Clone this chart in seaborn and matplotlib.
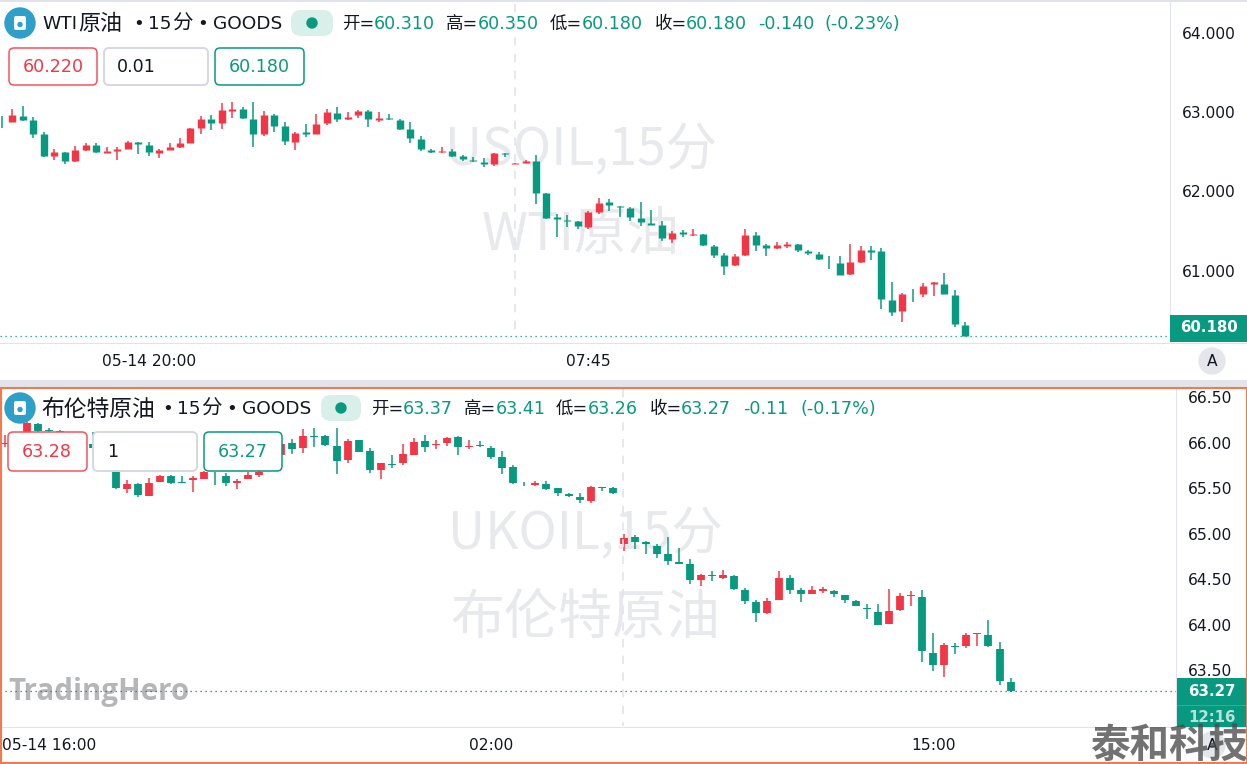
import matplotlib
matplotlib.use("Agg")
import matplotlib.pyplot as plt
import pandas as pd
import seaborn as sns
from matplotlib.patches import Circle, FancyBboxPatch, Rectangle

GREEN, RED = "#089981", "#f23645"
GREY_LINE = "#e0e3eb"
WM = "#e8e9ec"

# WTI crude, 15-minute candles
wti_open = [62.88,62.87,62.95,62.90,62.72,62.45,62.50,62.38,62.52,62.59,62.49,62.51,62.54,62.62,62.59,62.49,62.52,62.56,62.61,62.80,
            62.92,62.86,63.02,63.04,62.92,62.73,62.97,62.83,62.63,62.75,62.73,62.86,62.99,62.92,62.96,63.01,62.90,62.93,62.90,62.79,
            62.66,62.52,62.50,62.51,62.45,62.40,62.37,62.35,62.48,62.35,62.36,62.39,61.98,61.68,61.64,61.62,61.55,61.74,61.86,61.82,
            61.79,61.67,61.60,61.58,61.40,61.49,61.45,61.46,61.31,61.20,61.07,61.20,61.45,61.32,61.28,61.31,61.34,61.25,61.21,61.14,
            61.10,60.96,61.11,61.26,61.25,60.63,60.49,60.71,60.71,60.83,60.83,60.69,60.31]
wti_high = [62.95,63.04,63.08,62.94,62.75,62.53,62.50,62.57,62.61,62.61,62.56,62.56,62.64,62.62,62.62,62.53,62.61,62.67,62.80,62.95,
            62.97,63.12,63.13,63.06,63.13,63.01,62.98,62.87,62.75,62.85,62.98,63.04,63.06,63.00,63.03,63.03,63.00,62.98,62.92,62.88,
            62.70,62.54,62.56,62.54,62.46,62.43,62.42,62.49,62.48,62.36,62.40,62.46,61.98,61.71,61.70,61.63,61.75,61.92,61.90,61.82,
            61.80,61.86,61.76,61.63,61.50,61.51,61.53,61.46,61.32,61.22,61.21,61.53,61.49,61.34,61.36,61.36,61.34,61.26,61.23,61.18,
            61.18,61.34,61.31,61.31,61.29,60.85,60.72,60.77,60.84,60.85,60.97,60.75,60.35]
wti_low = [62.80,62.87,62.89,62.68,62.44,62.40,62.35,62.37,62.51,62.49,62.49,62.40,62.53,62.47,62.45,62.42,62.52,62.55,62.61,62.72,
           62.78,62.79,62.93,62.91,62.56,62.70,62.75,62.59,62.52,62.69,62.72,62.84,62.87,62.90,62.93,62.81,62.88,62.90,62.77,62.61,
           62.51,62.48,62.49,62.44,62.38,62.37,62.31,62.32,62.44,62.34,62.36,61.84,61.65,61.43,61.55,61.52,61.53,61.71,61.75,61.68,
           61.63,61.56,61.58,61.38,61.35,61.42,61.44,61.31,61.16,60.94,61.06,61.19,61.25,61.18,61.27,61.28,61.23,61.20,61.14,61.02,
           60.95,60.95,61.10,61.14,60.52,60.43,60.35,60.60,60.67,60.68,60.70,60.29,60.18]
wti_close = [62.87,62.96,62.90,62.73,62.45,62.50,62.38,62.52,62.59,62.50,62.51,62.54,62.63,62.60,62.50,62.52,62.56,62.61,62.80,62.92,
             62.86,63.03,63.04,62.93,62.73,62.96,62.83,62.64,62.74,62.73,62.85,63.00,62.92,62.94,63.01,62.91,62.93,62.91,62.79,62.67,
             62.53,62.50,62.51,62.45,62.41,62.38,62.34,62.48,62.47,62.36,62.38,61.98,61.66,61.65,61.63,61.56,61.74,61.85,61.83,61.80,
             61.68,61.61,61.58,61.41,61.47,61.46,61.46,61.32,61.20,61.06,61.19,61.45,61.32,61.28,61.32,61.34,61.26,61.22,61.15,61.13,
             60.95,61.11,61.26,61.24,60.64,60.48,60.71,60.70,60.81,60.85,60.70,60.32,60.18]

# Brent crude, 15-minute candles
brent_open = [65.98,65.99,66.10,66.20,66.14,66.13,66.04,66.02,65.98,65.94,65.79,65.49,65.54,65.41,65.57,65.63,65.57,65.59,65.60,65.67,
              65.63,65.56,65.60,65.64,65.70,65.86,65.99,65.94,66.07,66.07,65.96,65.81,66.03,65.91,65.70,65.76,65.77,65.86,66.02,65.97,
              66.00,66.06,65.95,65.97,65.94,65.84,65.73,65.56,65.53,65.54,65.50,65.43,65.40,65.36,65.51,65.50,64.89,64.96,64.91,64.86,
              64.77,64.69,64.66,64.49,64.54,64.51,64.53,64.38,64.25,64.13,64.27,64.51,64.38,64.33,64.37,64.37,64.32,64.26,64.18,64.14,
              64.01,64.16,64.31,64.30,63.69,63.55,63.76,63.76,63.90,63.89,63.73,63.37]
brent_high = [66.08,66.12,66.22,66.21,66.16,66.14,66.05,66.10,66.12,65.97,65.83,65.59,65.55,65.61,65.64,65.64,65.63,65.63,65.69,65.68,
              65.67,65.60,65.68,65.72,65.79,66.00,66.04,66.15,66.16,66.08,66.16,66.04,66.03,65.94,65.77,65.86,65.98,66.05,66.08,66.03,
              66.06,66.07,66.03,66.02,65.96,65.91,65.75,65.57,65.58,65.58,65.50,65.45,65.45,65.52,65.51,65.51,64.99,64.98,64.92,64.88,
              64.96,64.84,64.72,64.56,64.59,64.60,64.54,64.40,64.27,64.29,64.59,64.54,64.40,64.42,64.41,64.38,64.32,64.27,64.22,64.22,
              64.39,64.35,64.37,64.38,63.91,63.80,63.80,63.91,63.91,64.05,63.81,63.41]
brent_low = [65.95,65.97,66.10,66.12,66.03,66.02,65.95,66.02,65.93,65.75,65.49,65.45,65.40,65.41,65.57,65.54,65.55,65.46,65.60,65.53,
             65.52,65.49,65.60,65.62,65.69,65.84,65.87,65.88,65.95,65.96,65.65,65.78,65.90,65.67,65.60,65.72,65.75,65.86,65.90,65.93,
             65.96,65.86,65.93,65.95,65.82,65.65,65.54,65.52,65.52,65.48,65.41,65.40,65.34,65.34,65.47,65.43,64.81,64.83,64.77,64.73,
             64.65,64.67,64.44,64.42,64.48,64.50,64.38,64.23,64.03,64.12,64.27,64.33,64.25,64.33,64.35,64.30,64.24,64.20,64.06,64.00,
             64.01,64.15,64.20,63.59,63.49,63.42,63.68,63.74,63.76,63.75,63.34,63.26]
brent_close = [65.99,66.10,66.21,66.13,66.13,66.05,66.02,66.08,65.94,65.79,65.50,65.54,65.42,65.56,65.63,65.56,65.56,65.61,65.68,65.66,
               65.55,65.58,65.64,65.68,65.75,65.98,65.93,66.07,66.06,65.97,65.80,66.02,65.90,65.70,65.77,65.75,65.87,66.01,65.95,65.98,
               66.05,65.95,65.96,65.96,65.84,65.72,65.56,65.55,65.55,65.49,65.44,65.41,65.37,65.51,65.50,65.45,64.95,64.91,64.88,64.77,
               64.70,64.67,64.49,64.54,64.53,64.54,64.39,64.26,64.13,64.26,64.51,64.38,64.34,64.38,64.39,64.33,64.27,64.20,64.17,64.00,
               64.15,64.31,64.32,63.71,63.55,63.78,63.75,63.88,63.91,63.76,63.38,63.27]

wti_ticks = [61, 62, 63, 64]
brent_ticks = [63.5, 64.0, 64.5, 65.0, 65.5, 66.0, 66.5]
wti_time_ticks, wti_time_labels = [14, 56], ["05-14 20:00", "07:45"]
brent_time_ticks, brent_time_labels = [4, 44, 84], ["05-14 16:00", "02:00", "15:00"]

W, H = 1247, 764
sns.set_theme(style="white")
LATIN_FIRST = ["DejaVu Sans", "Noto Sans CJK SC"]
CJK = ["Noto Sans CJK SC", "DejaVu Sans"]
plt.rcParams["font.family"] = LATIN_FIRST
plt.rcParams["axes.unicode_minus"] = False

fig = plt.figure(figsize=(W / 100, H / 100), dpi=100, facecolor="white")


def panel(x0, y0, x1, y1, z=1):
    return fig.add_axes([x0 / W, 1 - y1 / H, (x1 - x0) / W, (y1 - y0) / H], zorder=z)


def px(pixels):
    return pixels * 0.72


def candles(ax, o, h, l, c, body_px):
    df = pd.DataFrame({"i": range(len(o)), "o": o, "h": h, "l": l, "c": c})
    df["dir"] = ["up" if a >= b else "down" for a, b in zip(df.c, df.o)]
    pal = {"up": RED, "down": GREEN}
    wick = df.melt(id_vars=["i", "dir"], value_vars=["h", "l"], value_name="price")
    body = df.melt(id_vars=["i", "dir"], value_vars=["o", "c"], value_name="price")
    sns.lineplot(data=wick, x="i", y="price", hue="dir", units="i", estimator=None, palette=pal,
                 legend=False, lw=px(1.5), ax=ax, solid_capstyle="butt")
    sns.lineplot(data=body, x="i", y="price", hue="dir", units="i", estimator=None, palette=pal,
                 legend=False, lw=px(body_px), ax=ax, solid_capstyle="butt")


def style(ax, xlim, ylim, yticks, fmt, xt, xl):
    ax.set_facecolor("none")
    ax.set_xlim(*xlim)
    ax.set_ylim(*ylim)
    ax.set_xlabel("")
    ax.set_ylabel("")
    sns.despine(ax=ax, left=True, bottom=True, top=True, right=True)
    ax.yaxis.tick_right()
    ax.set_yticks(yticks, [fmt.format(v) for v in yticks])
    ax.set_xticks(xt, xl)
    ax.tick_params(axis="y", length=0, pad=px(12), labelsize=px(15.5), labelcolor="#131722")
    ax.tick_params(axis="x", length=0, pad=px(11), labelsize=px(15.5), labelcolor="#131722")


# background layer with watermarks
bg = panel(0, 0, W, H, 0)
bg.set_xlim(0, W)
bg.set_ylim(H, 0)
bg.axis("off")
for x, y, s, size in [(581, 150, "USOIL,15分", 51.5), (581, 235, "WTI原油", 52.5),
                      (585, 534, "UKOIL,15分", 51.5), (585, 619, "布伦特原油", 54)]:
    bg.text(x, y, s, color=WM, fontsize=px(size), ha="center", va="center", family=CJK)
bg.text(8, 692, "TradingHero", color="#b4b6b8", fontsize=px(29.5), fontweight="bold",
        family=["Open Sans", "DejaVu Sans"], ha="left", va="center")

# price panels
a1 = panel(0, 1, 1170, 343)
candles(a1, wti_open, wti_high, wti_low, wti_close, 7.4)
style(a1, (-2 / 10.47, 1168 / 10.47), (64 - 310 / 79.2, 64 + 32 / 79.2), wti_ticks, "{:.3f}", wti_time_ticks, wti_time_labels)

a2 = panel(0, 389, 1176, 727)
candles(a2, brent_open, brent_high, brent_low, brent_close, 7.8)
style(a2, (-5 / 11.05, 1171 / 11.05), (63.5 - 57 / 91, 66.5 + 8 / 91), brent_ticks, "{:.2f}", brent_time_ticks, brent_time_labels)

# foreground layer in pixel units
fg = panel(0, 0, W, H, 3)
fg.set_xlim(0, W)
fg.set_ylim(H, 0)
fg.axis("off")
fg.patch.set_alpha(0)


def rect(x0, y0, x1, y1, color, z=1, **kw):
    fg.add_patch(Rectangle((x0, y0), x1 - x0, y1 - y0, facecolor=color, edgecolor="none", zorder=z, **kw))


def box(x0, y0, x1, y1, edge, lw=1.1, face="white", r=5, z=3):
    fg.add_patch(FancyBboxPatch((x0 + r, y0 + r), x1 - x0 - 2 * r, y1 - y0 - 2 * r,
                                boxstyle=f"round,pad={r},rounding_size={r}", fc=face, ec=edge, lw=lw, zorder=z))


def txt(x, y, s, color="#131722", size=17, ha="left", **kw):
    fg.text(x, y, s, color=color, fontsize=px(size), ha=ha, va="center", zorder=5, **kw)


# chrome lines
rect(0, 0, W, 1.5, GREY_LINE)
rect(1170, 0, 1171, 343, GREY_LINE)
rect(0, 342.5, W, 344, GREY_LINE)
rect(0, 380, W, 387, "#e3e5ea")
rect(1176, 389, 1177, 727, GREY_LINE)
rect(0, 726.5, W, 728, GREY_LINE)
fg.add_patch(Rectangle((0.5, 388), W - 1, 375, fill=False, ec="#f5794e", lw=1.5, zorder=6))
fg.plot([515, 515], [4, 333], color="#e3e4ea", lw=1.2, ls=(0, (5, 5)), zorder=0)
fg.plot([623, 623], [389, 726], color="#e3e4ea", lw=1.2, ls=(0, (5, 5)), zorder=0)
fg.plot([0, 1170], [336, 336], color=GREEN, lw=0.9, ls=(0, (1, 3)), zorder=0)
fg.plot([0, 1176], [691, 691], color="#2a6f63", lw=0.9, ls=(0, (1, 3)), zorder=0)

# price tags
rect(1170, 315, W, 342, GREEN, z=2)
txt(1209, 328, "60.180", "white", 15, ha="center", fontweight="bold")
rect(1177, 678, W, 727, GREEN, z=2)
rect(1177, 704.5, W, 705.5, "#2fae98", z=3)
txt(1212, 691, "63.27", "white", 15, ha="center", fontweight="bold")
txt(1212, 717, "12:16", "#b5e3da", 15, ha="center", fontweight="bold")

# header icons
for cx, cy in [(20, 23), (20, 408)]:
    fg.add_patch(Circle((cx, cy), 15, color="#2e9fc9", zorder=3))
    fg.add_patch(FancyBboxPatch((cx - 5, cy - 6), 10, 12, boxstyle="round,pad=1,rounding_size=2", fc="white", ec="none", zorder=4))
    fg.add_patch(Circle((cx, cy + 1.5), 2, color="#2e9fc9", zorder=5))

# header pills
for x0, x1, y0, y1 in [(291, 333, 10, 36), (321, 361, 395, 421)]:
    box(x0, y0, x1, y1, "none", face="#d9efea", r=10, lw=0)
    fg.add_patch(Circle(((x0 + x1) / 2, (y0 + y1) / 2), 5, color=GREEN, zorder=5))

# titles, set piece by piece to keep their spacing
for x, s, size in [(42, "WTI", 18.5), (78, "原油", 22), (133, "•", 18), (148, "15", 18.5), (172.5, "分", 20.5),
                   (197, "•", 18), (213, "GOODS", 18.5)]:
    txt(x, 24, s, size=size)
for x, s, size in [(41, "布伦特原油", 22.8), (162, "•", 18), (177, "15", 18.5), (201.5, "分", 20.5),
                   (226, "•", 18), (242, "GOODS", 18.5)]:
    txt(x, 409, s, size=size)

header_top = [(342, "开=", None), (374, "60.310", GREEN), (446, "高=", None), (478, "60.350", GREEN),
              (550, "低=", None), (582, "60.180", GREEN), (655, "收=", None), (686, "60.180", GREEN),
              (758, "-0.140", GREEN), (824, "(-0.23%)", GREEN)]
header_bottom = [(371, "开=", None), (403, "63.37", GREEN), (464, "高=", None), (496, "63.41", GREEN),
                 (556, "低=", None), (588, "63.26", GREEN), (650, "收=", None), (681, "63.27", GREEN),
                 (743, "-0.11", GREEN), (800, "(-0.17%)", GREEN)]
for y, items in ((24, header_top), (409, header_bottom)):
    for x, s, c in items:
        txt(x, y, s, c or "#131722", 17.5)

# order boxes
box(9, 48, 97, 85, "#f7525f")
txt(53, 67, "60.220", RED, 17.5, ha="center")
box(104, 48, 208, 85, "#d5d8e2", lw=1.4)
txt(117, 67, "0.01", "#131722", 17.5)
box(215, 48, 304, 85, GREEN)
txt(259, 67, "60.180", GREEN, 17.5, ha="center")
box(8, 432, 87, 471, "#f7525f")
txt(47, 452, "63.28", RED, 17.5, ha="center")
box(93, 432, 197, 471, "#d5d8e2", lw=1.4)
txt(107, 452, "1", "#131722", 17.5)
box(204, 432, 282, 471, GREEN)
txt(243, 452, "63.27", GREEN, 17.5, ha="center")

# auto-scale buttons
for cy in (361, 745):
    fg.add_patch(Circle((1212, cy), 13, color="#e4e6ec", zorder=3))
    txt(1212, cy, "A", "#131722", 15.5, ha="center")

# corner stamp
txt(1090, 745, "泰和科技", "#4a4a4a", 39.5, fontweight="bold", alpha=0.78, family=CJK)

fig.savefig("out.png", dpi=100)
